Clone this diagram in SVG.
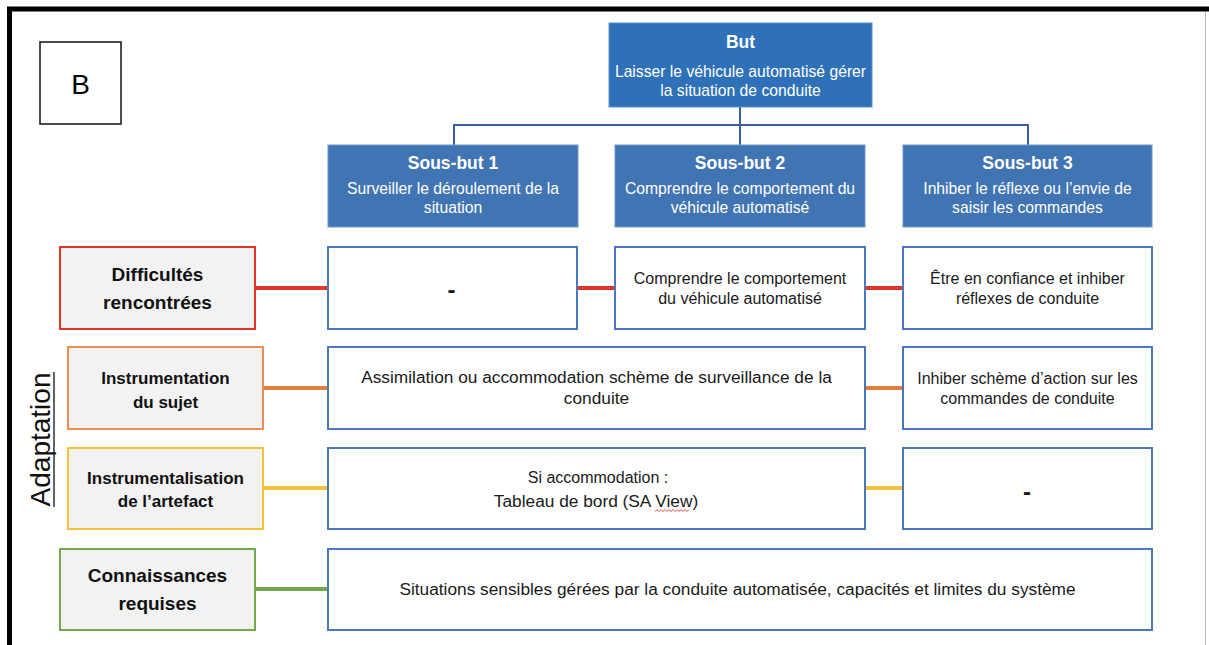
<svg xmlns="http://www.w3.org/2000/svg" width="1209" height="645" viewBox="0 0 1209 645">
<style>
text{font-family:"Liberation Sans",Arial,sans-serif;}
.head{fill:#2E71B8;stroke:#5B8FD0;stroke-width:1;}
.sub{fill:#4174B2;stroke:#6F96C8;stroke-width:1;}
.ht{fill:#fff;font-weight:bold;font-size:17.5px;text-anchor:middle;}
.st{fill:#fff;font-size:15.7px;text-anchor:middle;}
.cell{fill:#fff;stroke:#4A78C0;stroke-width:2;}
.ct{fill:#1a1a1a;font-size:17.3px;text-anchor:middle;}
.cn{fill:#1a1a1a;font-size:16px;text-anchor:middle;}
.dash{fill:#1a1a1a;font-size:24px;font-weight:bold;text-anchor:middle;}
.lab{fill:#F2F2F2;stroke-width:2;}
.lt{fill:#111;font-weight:bold;text-anchor:middle;}
.tree{fill:none;stroke:#3A5E9E;stroke-width:2;}
.con{stroke-width:4;fill:none;}
</style>
<g id="frame">
<line x1="7" y1="9" x2="1209" y2="9" stroke="#000" stroke-width="5"/>
<line x1="9.5" y1="7" x2="9.5" y2="645" stroke="#000" stroke-width="5"/>
<line x1="1205.5" y1="12" x2="1205.5" y2="645" stroke="#BBBBBB" stroke-width="1"/>
</g>
<g id="label-B">
<rect x="40" y="42" width="81" height="82" fill="#fff" stroke="#111" stroke-width="1.5"/>
<text x="80.5" y="94" font-size="28" text-anchor="middle" fill="#000">B</text>
</g>
<g id="connectors">
<path class="tree" d="M740 107 V125 M454 145 V125 H1028 V145 M740 125 V145"/>
<line class="con" stroke="#E6332A" x1="255" y1="288" x2="328" y2="288"/>
<line class="con" stroke="#E6332A" x1="577" y1="288" x2="615" y2="288"/>
<line class="con" stroke="#E6332A" x1="865" y1="288" x2="903" y2="288"/>
<line class="con" stroke="#E47E3E" x1="263" y1="388" x2="328" y2="388"/>
<line class="con" stroke="#E47E3E" x1="865" y1="388" x2="903" y2="388"/>
<line class="con" stroke="#F8C13A" x1="263" y1="488" x2="328" y2="488"/>
<line class="con" stroke="#F8C13A" x1="865" y1="488" x2="903" y2="488"/>
<line class="con" stroke="#72A84E" x1="255" y1="589" x2="328" y2="589"/>
</g>
<g id="but">
<rect class="head" x="609" y="23" width="263" height="84"/>
<text class="ht" x="740.5" y="48">But</text>
<text class="st" x="740.5" y="77">Laisser le véhicule automatisé gérer</text>
<text class="st" x="740.5" y="96">la situation de conduite</text>
</g>
<g id="sous-but-1">
<rect class="sub" x="328" y="145" width="250" height="82"/>
<text class="ht" x="453" y="169">Sous-but 1</text>
<text class="st" x="453" y="194">Surveiller le déroulement de la</text>
<text class="st" x="453" y="213">situation</text>
</g>
<g id="sous-but-2">
<rect class="sub" x="615" y="145" width="250" height="82"/>
<text class="ht" x="740" y="169">Sous-but 2</text>
<text class="st" x="740" y="194">Comprendre le comportement du</text>
<text class="st" x="740" y="213">véhicule automatisé</text>
</g>
<g id="sous-but-3">
<rect class="sub" x="903" y="145" width="249" height="82"/>
<text class="ht" x="1027.5" y="169">Sous-but 3</text>
<text class="st" x="1027.5" y="194">Inhiber le réflexe ou l’envie de</text>
<text class="st" x="1027.5" y="213">saisir les commandes</text>
</g>
<g id="difficultes">
<rect class="lab" stroke="#E6332A" x="60" y="247" width="195" height="82"/>
<text class="lt" font-size="19" x="157.5" y="281">Difficultés</text>
<text class="lt" font-size="19" x="157.5" y="309">rencontrées</text>
</g>
<g id="diff-1">
<rect class="cell" x="328" y="247" width="249" height="82"/>
<text class="dash" x="451.5" y="298">-</text>
</g>
<g id="diff-2">
<rect class="cell" x="615" y="247" width="250" height="82"/>
<text class="cn" x="740" y="284">Comprendre le comportement</text>
<text class="cn" x="740" y="304">du véhicule automatisé</text>
</g>
<g id="diff-3">
<rect class="cell" x="903" y="247" width="249" height="82"/>
<text class="cn" x="1027.5" y="284">Être en confiance et inhiber</text>
<text class="cn" x="1027.5" y="304">réflexes de conduite</text>
</g>
<g id="instrumentation">
<rect class="lab" stroke="#E98E55" x="68" y="347" width="195" height="82"/>
<text class="lt" font-size="17" x="165.5" y="384">Instrumentation</text>
<text class="lt" font-size="17" x="165.5" y="408">du sujet</text>
</g>
<g id="instr-12">
<rect class="cell" x="328" y="347" width="537" height="82"/>
<text class="ct" x="596.5" y="383">Assimilation ou accommodation schème de surveillance de la</text>
<text class="ct" x="596.5" y="404">conduite</text>
</g>
<g id="instr-3">
<rect class="cell" x="903" y="347" width="249" height="82"/>
<text class="cn" x="1027.5" y="384">Inhiber schème d’action sur les</text>
<text class="cn" x="1027.5" y="404">commandes de conduite</text>
</g>
<g id="instrumentalisation">
<rect class="lab" stroke="#F8C13A" x="68" y="448" width="195" height="81"/>
<text class="lt" font-size="17" x="165.5" y="484">Instrumentalisation</text>
<text class="lt" font-size="17" x="165.5" y="507">de l’artefact</text>
</g>
<g id="instrl-12">
<rect class="cell" x="328" y="448" width="537" height="81"/>
<text class="cn" x="598" y="483">Si accommodation :</text>
<text class="ct" x="596" y="507">Tableau de bord (SA View)</text>
<path d="M655 511.5 l2 -2 l2 2 l2 -2 l2 2 l2 -2 l2 2 l2 -2 l2 2 l2 -2 l2 2 l2 -2 l2 2 l2 -2 l2 2 l2 -2 l2 2 l2 -2" fill="none" stroke="#E0302A" stroke-width="0.9"/>
</g>
<g id="instrl-3">
<rect class="cell" x="903" y="448" width="249" height="81"/>
<text class="dash" x="1027" y="500">-</text>
</g>
<g id="connaissances">
<rect class="lab" stroke="#72A84E" x="60" y="549" width="195" height="81"/>
<text class="lt" font-size="19" x="157.5" y="582">Connaissances</text>
<text class="lt" font-size="19" x="157.5" y="610">requises</text>
</g>
<g id="conn-all">
<rect class="cell" x="328" y="549" width="824" height="81"/>
<text class="ct" x="737.5" y="595">Situations sensibles gérées par la conduite automatisée, capacités et limites du système</text>
</g>
<g id="adaptation">
<text transform="translate(50,439.5) rotate(-90)" font-size="28" text-anchor="middle" fill="#111">Adaptation</text>
<line x1="54" y1="372" x2="54" y2="507" stroke="#111" stroke-width="1.3"/>
</g>
</svg>
